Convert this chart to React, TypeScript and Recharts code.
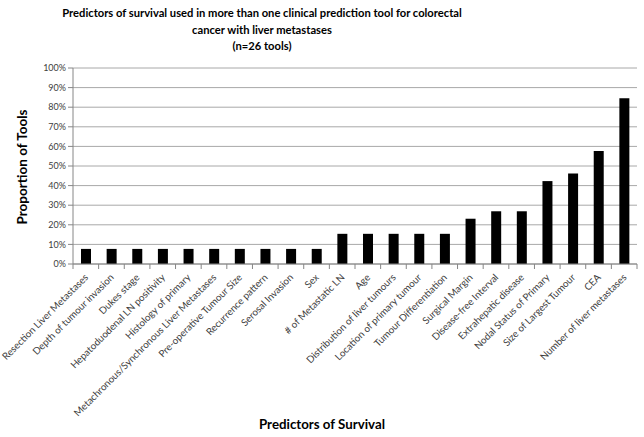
import React from "react";
import { BarChart, Bar, XAxis, YAxis, CartesianGrid } from "recharts";

const predictors = [
  "Resection Liver Metastases",
  "Depth of tumour invasion",
  "Dukes stage",
  "Hepatoduodenal LN positivity",
  "Histology of primary",
  "Metachronous/Synchronous Liver Metastases",
  "Pre-operative Tumour Size",
  "Recurrence pattern",
  "Serosal Invasion",
  "Sex",
  "# of Metastatic LN",
  "Age",
  "Distribution of liver tumours",
  "Location of primary tumour",
  "Tumour Differentiation",
  "Surgical Margin",
  "Disease-free Interval",
  "Extrahepatic disease",
  "Nodal Status of Primary",
  "Size of Largest Tumour",
  "CEA",
  "Number of liver metastases",
];

const proportions = [
  7.7, 7.7, 7.7, 7.7, 7.7, 7.7, 7.7, 7.7, 7.7, 7.7,
  15.4, 15.4, 15.4, 15.4, 15.4,
  23.1, 26.9, 26.9, 42.3, 46.2, 57.7, 84.6,
];

const yTicks = [0, 10, 20, 30, 40, 50, 60, 70, 80, 90, 100];

const data = predictors.map((name, i) => ({ name, value: proportions[i] }));

const FONT = "Lato, 'Open Sans', sans-serif";
const W = 644;
const H = 437;
const X_H = 173;
const M = { top: 68, right: 7, bottom: 0, left: 0 };
const Y_W = 73;
const BAND = (W - M.left - M.right - Y_W) / predictors.length;

const XTick = (props: any) => {
  const { x, y, payload, index } = props;
  const ax = y - 8;
  const tx = x + 3;
  const ty = ax + 14;
  return (
    <g>
      <line x1={x - BAND / 2} x2={x - BAND / 2} y1={ax} y2={ax + 5} stroke="#868686" />
      {index === predictors.length - 1 && (
        <line x1={x + BAND / 2} x2={x + BAND / 2} y1={ax} y2={ax + 5} stroke="#868686" />
      )}
      <text
        x={tx}
        y={ty}
        textAnchor="end"
        transform={`rotate(-45 ${tx} ${ty})`}
        fontSize={9.8}
        fill="#404040"
        fontFamily={FONT}
      >
        {payload.value}
      </text>
    </g>
  );
};

export default function App() {
  return (
    <div style={{ position: "absolute", left: 0, top: 0, width: W, height: H, background: "#fff", fontFamily: FONT }}>
      <div
        style={{
          position: "absolute",
          left: 262 - 250,
          top: 5,
          width: 500,
          textAlign: "center",
          fontWeight: 700,
          fontSize: 11.2,
          lineHeight: "16.5px",
          color: "#000",
        }}
      >
        Predictors of survival used in more than one clinical prediction tool for colorectal
        <br />
        cancer with liver metastases
        <br />
        (n=26 tools)
      </div>
      <div
        style={{
          position: "absolute",
          left: 22,
          top: 167,
          transform: "translate(-50%, -50%) rotate(-90deg)",
          whiteSpace: "nowrap",
          fontWeight: 700,
          fontSize: 13.5,
          color: "#000",
        }}
      >
        Proportion of Tools
      </div>
      <div
        style={{
          position: "absolute",
          left: 0,
          top: 416,
          width: W,
          textAlign: "center",
          fontWeight: 700,
          fontSize: 13.3,
          color: "#000",
        }}
      >
        Predictors of Survival
      </div>
      <BarChart width={W} height={H} data={data} margin={M} barSize={10}>
        <CartesianGrid vertical={false} stroke="#a8a8a8" />
        <XAxis
          dataKey="name"
          interval={0}
          tickLine={false}
          tick={<XTick />}
          stroke="#868686"
          height={X_H}
        />
        <YAxis
          domain={[0, 100]}
          ticks={yTicks}
          interval={0}
          width={Y_W}
          tickFormatter={(v: number) => `${v}%`}
          tick={{ fontSize: 9, fill: "#404040", fontFamily: FONT }}
          tickSize={5}
          stroke="#868686"
        />
        <Bar dataKey="value" fill="#000" isAnimationActive={false} />
      </BarChart>
    </div>
  );
}
